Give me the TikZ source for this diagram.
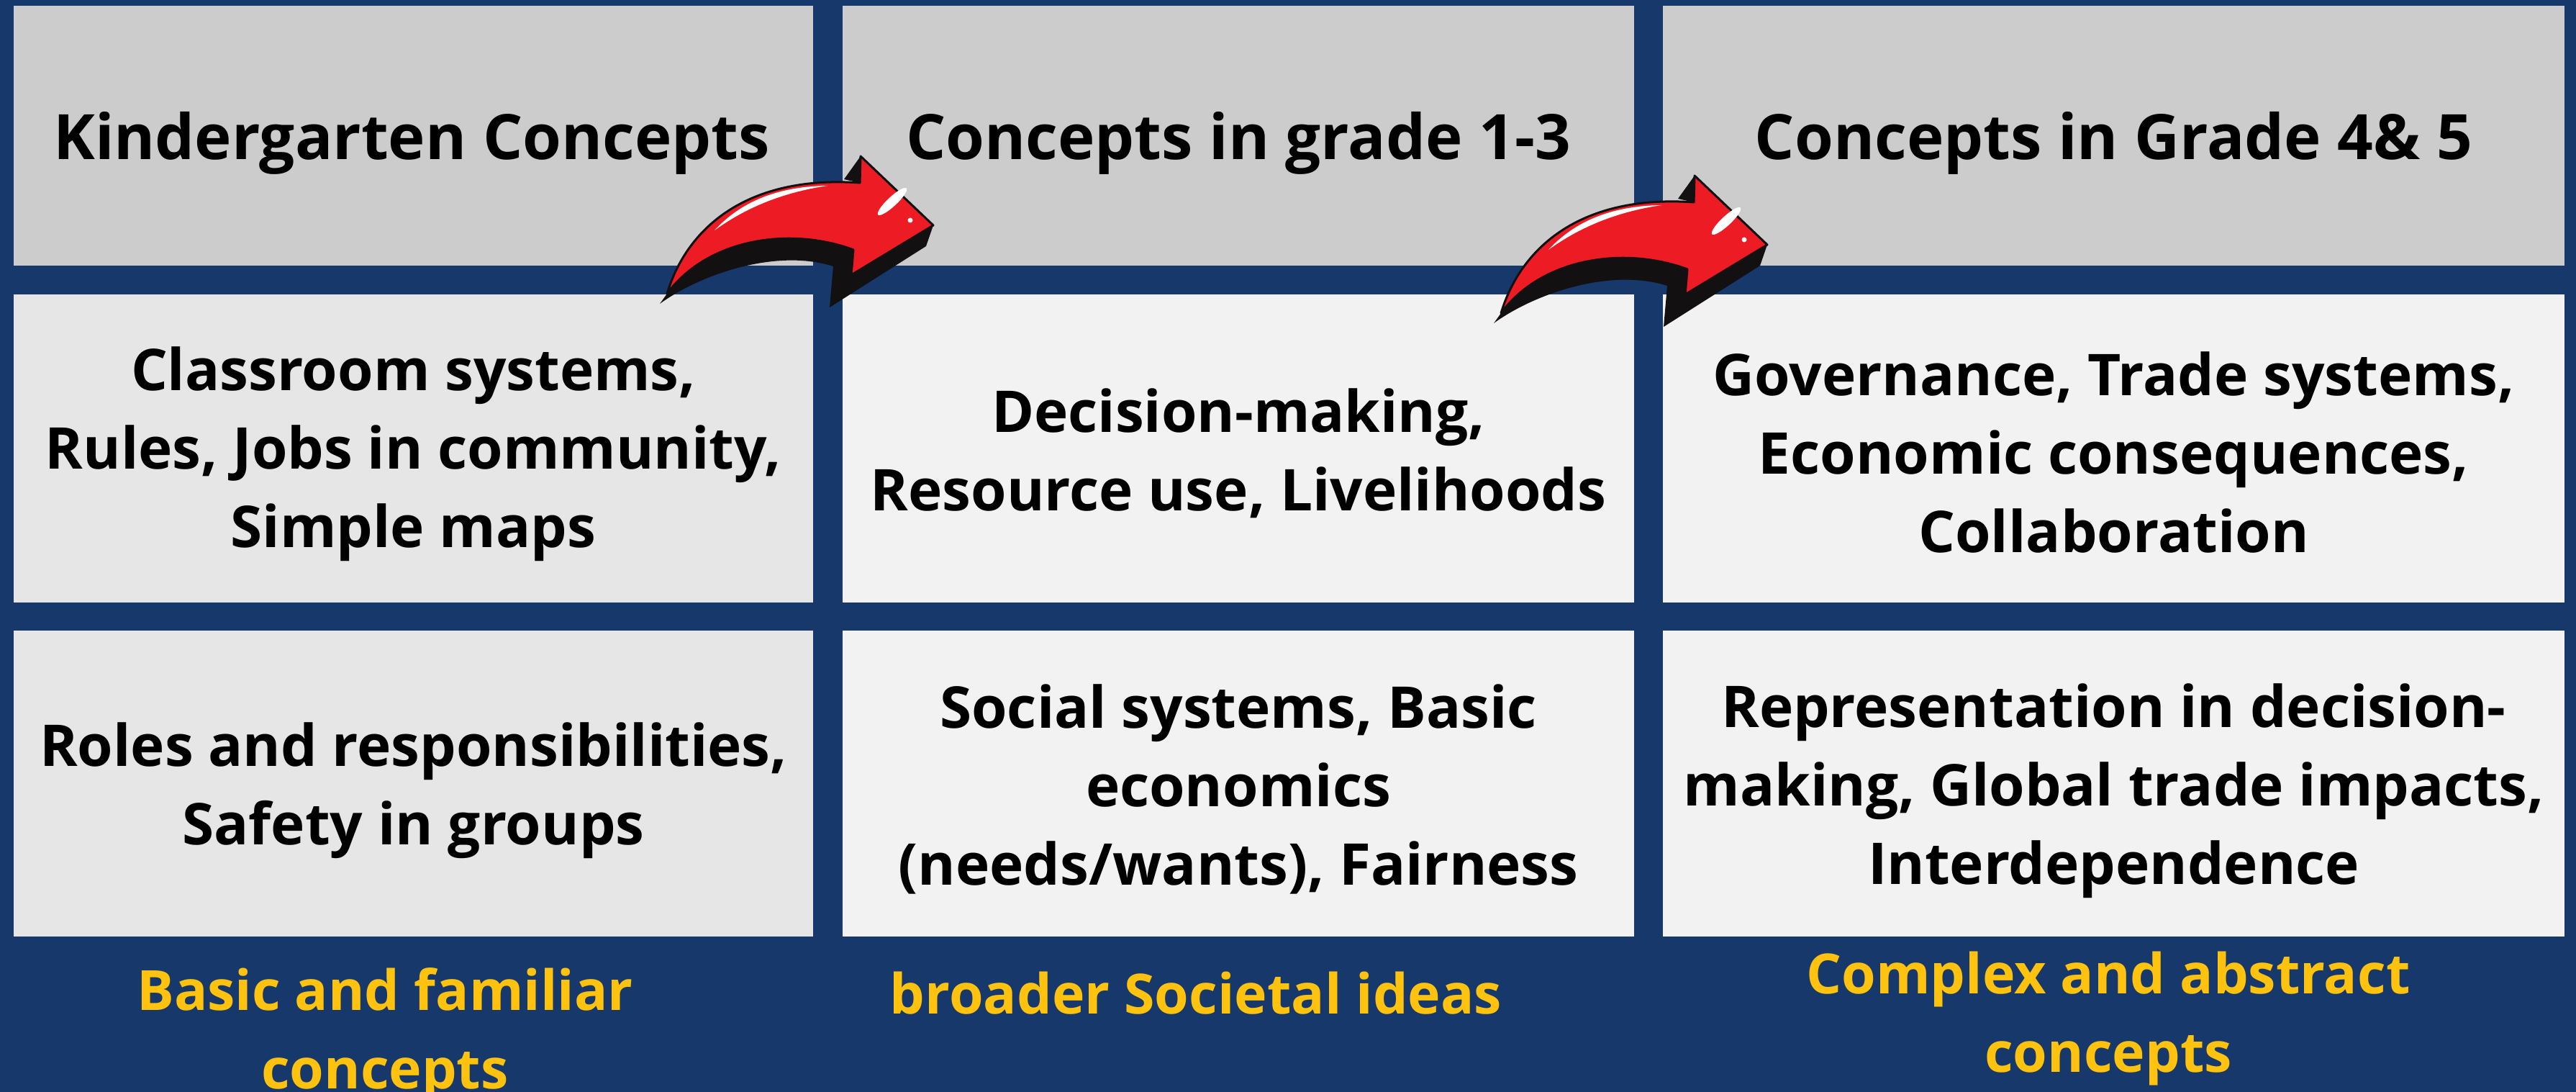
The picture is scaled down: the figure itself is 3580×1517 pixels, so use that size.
\documentclass[tikz,border=0pt]{standalone}
\usepackage{fontspec}
\setmainfont{Open Sans}
\usepackage{xcolor}
\usepackage{tikz}

\definecolor{navyback}{HTML}{17386A}
\definecolor{headgray}{HTML}{CCCCCC}
\definecolor{cellgray}{HTML}{E6E6E6}
\definecolor{celllight}{HTML}{F2F2F2}
\definecolor{notegold}{HTML}{FFC20E}
\definecolor{arrowred}{HTML}{ED1C24}
\definecolor{arrowdark}{HTML}{121010}

\begin{document}
\begin{tikzpicture}[x=0.2pt,y=0.2pt,yscale=-1,
    headtext/.style={inner sep=0pt, align=center, font=\bfseries\fontsize{17.4}{21.8}\selectfont},
    celltext/.style={inner sep=0pt, align=center, font=\bfseries\fontsize{16}{21.8}\selectfont},
    notetext/.style={inner sep=0pt, align=center, text=notegold, font=\bfseries\fontsize{15.4}{21.8}\selectfont}]
\useasboundingbox (0,0) rectangle (3580,1517);

%Shape: Background
\fill [navyback] (0,0) rectangle (3580,1517) ;

%Shape: Rectangle [header row]
\fill [headgray] (19,8) -- (1130,8) -- (1130,369) -- (19,369) -- cycle ;
\fill [headgray] (1171,8) -- (2271,8) -- (2271,369) -- (1171,369) -- cycle ;
\fill [headgray] (2311,8) -- (3564,8) -- (3564,369) -- (2311,369) -- cycle ;
%Shape: Rectangle [middle row]
\fill [cellgray] (19,409) -- (1130,409) -- (1130,837) -- (19,837) -- cycle ;
\fill [celllight] (1171,409) -- (2271,409) -- (2271,837) -- (1171,837) -- cycle ;
\fill [celllight] (2311,409) -- (3564,409) -- (3564,837) -- (2311,837) -- cycle ;
%Shape: Rectangle [bottom row]
\fill [cellgray] (19,876) -- (1130,876) -- (1130,1301) -- (19,1301) -- cycle ;
\fill [celllight] (1171,876) -- (2271,876) -- (2271,1301) -- (1171,1301) -- cycle ;
\fill [celllight] (2311,876) -- (3564,876) -- (3564,1301) -- (2311,1301) -- cycle ;

% Text Node
\draw (572,199) node (kinder) [headtext] {Kindergarten Concepts};
% Text Node
\draw (1721,199) node (gradeone) [headtext] {Concepts in grade 1-3};
% Text Node
\draw (2937.5,199) node (gradefour) [headtext] {Concepts in Grade 4\& 5};

% Text Node
\draw (574.5,631) node (kindermid) [celltext] {Classroom systems,\\Rules, Jobs in community,\\Simple maps};
% Text Node
\draw (1721,630) node (gradeonemid) [celltext] {Decision-making,\\Resource use, Livelihoods};
% Text Node
\draw (2937.5,628) node (gradefourmid) [celltext] {Governance, Trade systems,\\Economic consequences,\\Collaboration};

% Text Node
\draw (574.5,1098) node (kinderlow) [celltext] {Roles and responsibilities,\\Safety in groups};
% Text Node
\draw (1721,1096) node (gradeonelow) [celltext] {Social systems, Basic\\economics\\(needs/wants), Fairness};
% Text Node
\draw (2937.5,1099) node (gradefourlow) [celltext] {Representation in decision-\\making, Global trade impacts,\\Interdependence};

% Text Node
\draw (535,1438) node (kindernote) [notetext] {Basic and familiar\\concepts};
% Text Node
\draw (1662,1380) node (gradeonenote) [notetext] {broader Societal ideas};
% Text Node
\draw (2930,1415) node (gradefournote) [notetext] {Complex and abstract\\concepts};

%Shape: Curved Arrow
\foreach \dx/\dy in {0/0,1159/27}{
\begin{scope}[shift={(\dx,\dy)}]
\fill [arrowdark] (917,422) .. controls (975,380) and (1080,345) .. (1158,370) -- (1153,427) -- (1287,342) -- (1297,313) -- (1196,217) -- (1173,249) -- (1195,254) .. controls (1040,243) and (955,315) .. (927,408) -- cycle ;
\draw [arrowdark, fill=arrowred, line width=0.6pt, line join=round] (927,408) .. controls (955,315) and (1040,243) .. (1195,254) -- (1196,217) -- (1297,313) -- (1183,382) -- (1186,347) .. controls (1100,315) and (985,330) .. cycle ;
\fill [white] (993,320) .. controls (1028,282) and (1078,259) .. (1150,258) .. controls (1083,268) and (1033,291) .. cycle ;
\fill [white, rotate around={-43:(1240,280)}] (1240,280) ellipse [x radius=27, y radius=6.5] ;
\fill [white] (1265,306) circle [radius=3.5] ;
\end{scope}
}

\end{tikzpicture}
\end{document}
